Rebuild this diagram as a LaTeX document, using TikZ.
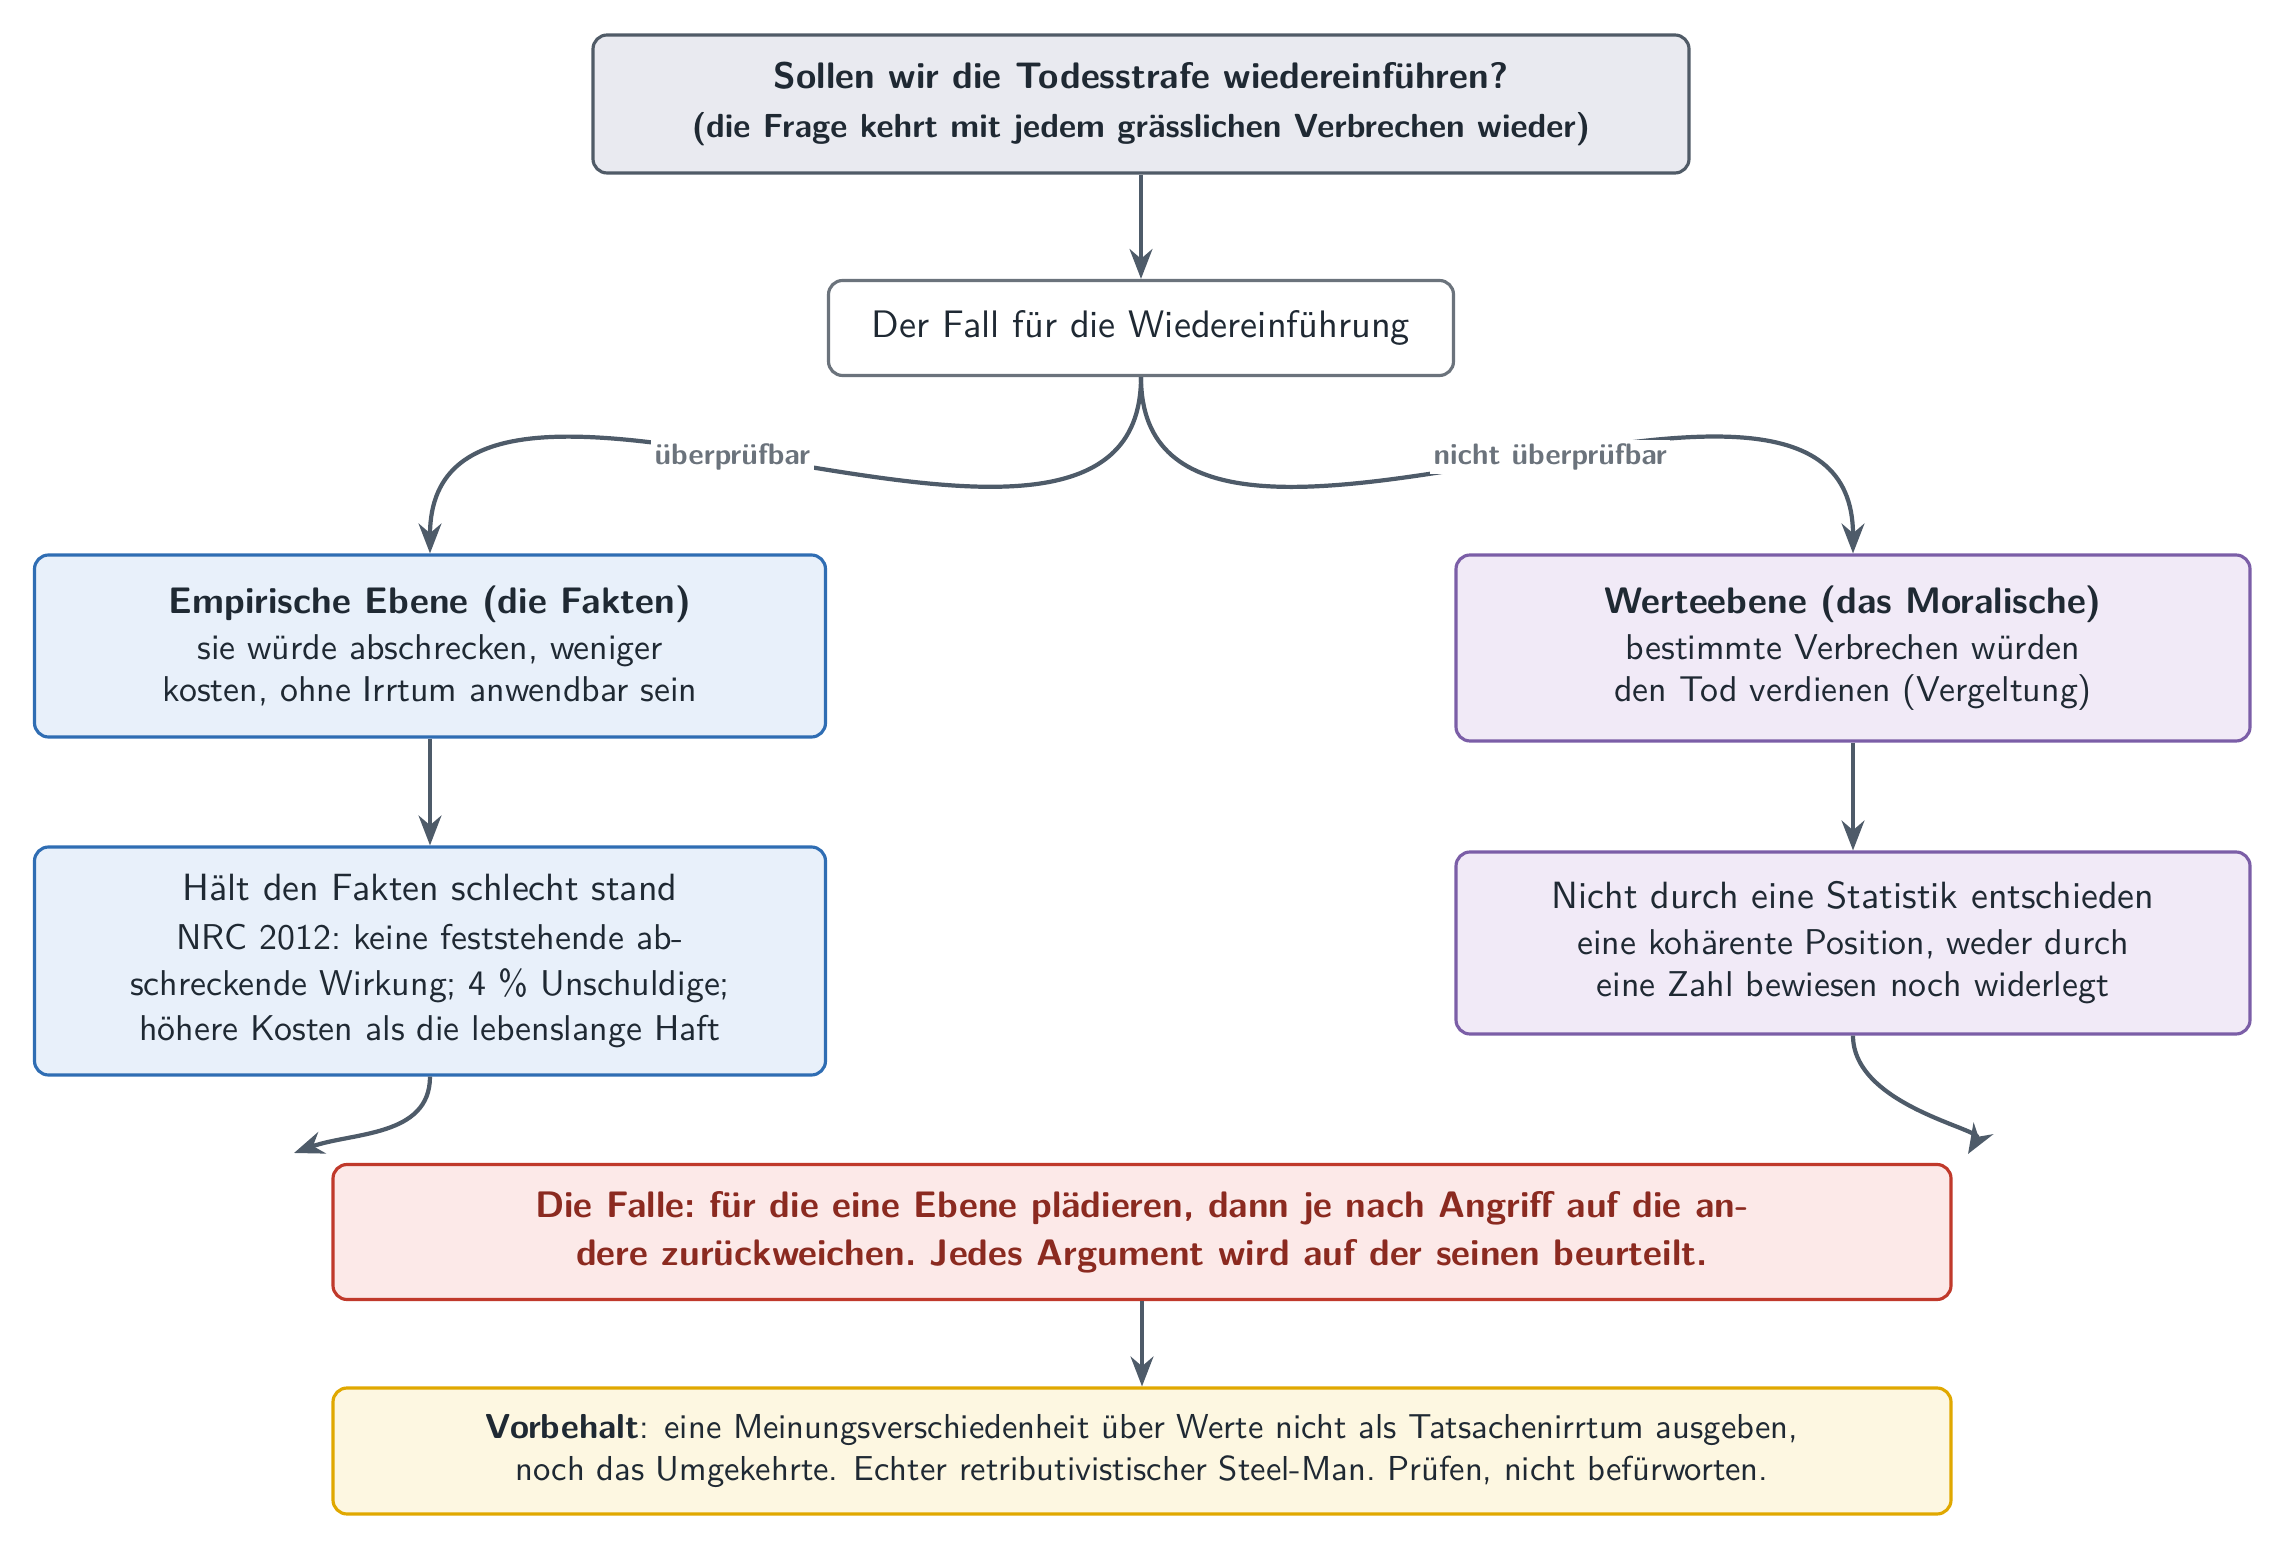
\documentclass[tikz,border=0pt]{standalone}
\usepackage{tikz}
\usetikzlibrary{arrows.meta}
\renewcommand{\familydefault}{\sfdefault}
\definecolor{TodInk}{HTML}{1F2933}
\definecolor{TodArrow}{HTML}{4E5B69}
\definecolor{TodMuted}{HTML}{6B737C}
\definecolor{TodTopFill}{HTML}{E9EAF0}
\definecolor{TodTopLine}{HTML}{505B67}
\definecolor{TodEmpFill}{HTML}{E8F0FA}
\definecolor{TodEmpLine}{HTML}{2F6DB3}
\definecolor{TodWertFill}{HTML}{F1EAF7}
\definecolor{TodWertLine}{HTML}{7B5EA7}
\definecolor{TodFalleFill}{HTML}{FCE9E8}
\definecolor{TodFalleLine}{HTML}{C0392B}
\definecolor{TodFalleText}{HTML}{8B2A20}
\definecolor{TodVorbFill}{HTML}{FDF7E1}
\definecolor{TodVorbLine}{HTML}{E0A800}
\newcommand{\kopf}{\fontsize{10.5}{12.6}\selectfont\bfseries}
\newcommand{\zeile}{\fontsize{10.2}{12.2}\selectfont\mdseries}

\begin{document}
\begin{tikzpicture}[
    box/.style={draw, rounded corners=4pt, line width=0.9pt, align=center,
      text=TodInk, inner sep=0pt},
    pfeil/.style={-{Stealth[length=8.5pt,width=6.5pt]}, TodArrow, line width=1.2pt},
    marke/.style={fill=white, text=TodMuted, font=\fontsize{8.4}{10}\selectfont\bfseries, inner sep=1pt}
  ]
    \useasboundingbox (0,0) rectangle (22.83,-15.51);

    \node[box, fill=TodTopFill, draw=TodTopLine, minimum width=10.96cm, minimum height=1.38cm]
      (frage) at (11.41,-1.04) {{\kopf Sollen wir die Todesstrafe wiedereinführen?}\\[2pt]
      {\fontsize{9.5}{11.4}\selectfont\bfseries (die Frage kehrt mit jedem grässlichen Verbrechen wieder)}};

    \node[box, fill=white, draw=TodMuted, minimum width=6.25cm, minimum height=0.95cm,
      font=\fontsize{10.9}{13}\selectfont] (fall) at (11.41,-3.28) {Der Fall für die Wiedereinführung};

    \node[box, fill=TodEmpFill, draw=TodEmpLine, minimum width=7.91cm, minimum height=1.82cm]
      (emp) at (4.30,-6.46) {{\kopf Empirische Ebene (die Fakten)}\\[1pt]
      \zeile sie würde abschrecken, weniger\\ \zeile kosten, ohne Irrtum anwendbar sein};

    \node[box, fill=TodWertFill, draw=TodWertLine, minimum width=7.94cm, minimum height=1.86cm]
      (wert) at (18.53,-6.48) {{\kopf Werteebene (das Moralische)}\\[1pt]
      \zeile bestimmte Verbrechen würden\\ \zeile den Tod verdienen (Vergeltung)};

    \node[box, fill=TodEmpFill, draw=TodEmpLine, minimum width=7.91cm, minimum height=2.28cm]
      (fakten) at (4.30,-9.61) {{\fontsize{10.8}{13}\selectfont Hält den Fakten schlecht stand}\\[2pt]
      \zeile NRC 2012:\ keine feststehende ab-\\[1pt] \zeile schreckende Wirkung;\ 4~\% Unschuldige;\\[1pt]
      \zeile höhere Kosten als die lebenslange Haft};

    \node[box, fill=TodWertFill, draw=TodWertLine, minimum width=7.94cm, minimum height=1.82cm]
      (statistik) at (18.53,-9.43) {{\fontsize{10.8}{13}\selectfont Nicht durch eine Statistik entschieden}\\[1pt]
      \zeile eine kohärente Position, weder durch\\ \zeile eine Zahl bewiesen noch widerlegt};

    \node[box, fill=TodFalleFill, draw=TodFalleLine, text=TodFalleText, minimum width=16.18cm,
      minimum height=1.35cm, font=\kopf] (falle) at (11.42,-12.32)
      {Die Falle:\ für die eine Ebene plädieren, dann je nach Angriff auf die an-\\[1pt]
      dere zurückweichen.\ Jedes Argument wird auf der seinen beurteilt.};

    \node[box, fill=TodVorbFill, draw=TodVorbLine, minimum width=16.18cm, minimum height=1.26cm,
      font=\fontsize{9.85}{11.8}\selectfont] (vorbehalt) at (11.42,-14.51)
      {\textbf{Vorbehalt}: eine Meinungsverschiedenheit über Werte nicht als Tatsachenirrtum ausgeben,\\
      noch das Umgekehrte. Echter retributivistischer Steel-Man.\ Prüfen, nicht befürworten.};

    \coordinate (linksziel) at (2.94,-11.53);
    \coordinate (rechtsziel) at (19.68,-11.54);

    \draw[pfeil] (frage) -- (fall);
    \draw[pfeil] (fall.south) to[out=-90,in=90]
      node[marke, pos=0.55] {überprüfbar} (emp.north);
    \draw[pfeil] (fall.south) to[out=-90,in=90]
      node[marke, pos=0.55] {nicht überprüfbar} (wert.north);
    \draw[pfeil] (emp) -- (fakten);
    \draw[pfeil] (wert) -- (statistik);
    \draw[pfeil] (fakten.south) to[out=-90,in=20] (linksziel);
    \draw[pfeil] (statistik.south) .. controls +(0,-0.7) and +(0.15,0.25) .. (rechtsziel);
    \draw[pfeil] (falle) -- (vorbehalt);
  \end{tikzpicture}
\end{document}
